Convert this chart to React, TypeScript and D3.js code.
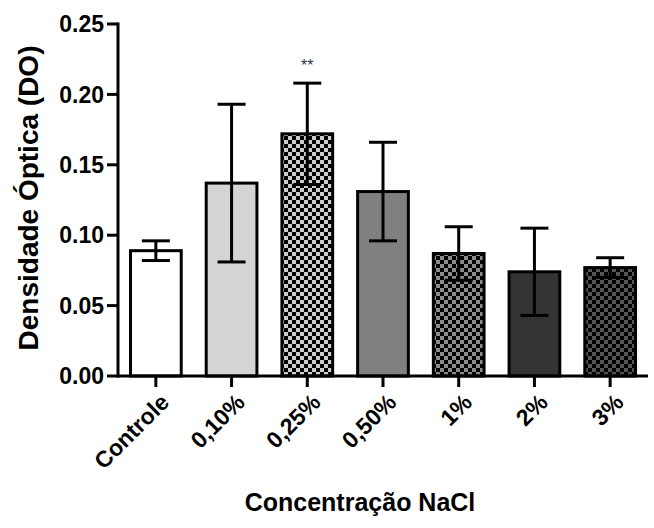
import * as d3 from 'd3';

const categories = ['Controle', '0,10%', '0,25%', '0,50%', '1%', '2%', '3%'];
const means = [0.089, 0.137, 0.172, 0.131, 0.087, 0.074, 0.077];
const errors = [0.007, 0.056, 0.036, 0.035, 0.019, 0.031, 0.007];
const yTicks = [0, 0.05, 0.1, 0.15, 0.2, 0.25];
const marks = ['', '', '**', '', '', '', ''];

const W = 654;
const H = 528;
const font = '"Liberation Sans", Arial, sans-serif';

// fill per bar: solid colour or checker pattern id
const fills = ['#ffffff', '#d4d4d4', 'url(#chk1)', '#808080', 'url(#chk2)', '#333333', 'url(#chk3)'];
const checkers = [
  { id: 'chk1', light: '#cccccc' },
  { id: 'chk2', light: '#8a8a8a' },
  { id: 'chk3', light: '#555555' },
];

export default function App() {
  const x = d3.scaleBand<string>()
    .domain(categories)
    .range([118, 648])
    .paddingInner(0.33)
    .paddingOuter(0.165);

  const y = d3.scaleLinear().domain([0, 0.25]).range([376, 24]);
  const capW = 28;

  return (
    <svg width={W} height={H} style={{ position: 'absolute', left: 0, top: 0, background: '#fff' }}>
      <defs>
        {checkers.map(c => (
          <pattern key={c.id} id={c.id} width={8} height={8} patternUnits="userSpaceOnUse">
            <rect width={8} height={8} fill="#000" />
            <rect x={0} y={0} width={4} height={4} fill={c.light} />
            <rect x={4} y={4} width={4} height={4} fill={c.light} />
          </pattern>
        ))}
      </defs>

      {/* bars */}
      {categories.map((c, i) => (
        <rect
          key={c}
          x={x(c)!}
          y={y(means[i])}
          width={x.bandwidth()}
          height={y(0) - y(means[i])}
          fill={fills[i]}
          stroke="#000"
          strokeWidth={3}
        />
      ))}

      {/* error bars */}
      {categories.map((c, i) => {
        const cx = x(c)! + x.bandwidth() / 2;
        const top = y(means[i] + errors[i]);
        const bot = y(means[i] - errors[i]);
        return (
          <g key={c} stroke="#000" strokeWidth={3}>
            <line x1={cx} x2={cx} y1={top} y2={bot} />
            <line x1={cx - capW / 2} x2={cx + capW / 2} y1={top} y2={top} />
            <line x1={cx - capW / 2} x2={cx + capW / 2} y1={bot} y2={bot} />
          </g>
        );
      })}

      {/* significance */}
      {categories.map((c, i) => marks[i] ? (
        <text
          key={c}
          x={x(c)! + x.bandwidth() / 2}
          y={y(means[i] + errors[i]) - 12}
          textAnchor="middle"
          fontFamily={font}
          fontSize={16}
          fill="#333344"
        >{marks[i]}</text>
      ) : null)}

      {/* y axis */}
      <line x1={118} x2={118} y1={y(0.25) - 1.5} y2={y(0) + 1.5} stroke="#000" strokeWidth={3} />
      {yTicks.map(t => (
        <g key={t}>
          <line x1={107} x2={118} y1={y(t)} y2={y(t)} stroke="#000" strokeWidth={3} />
          <text
            x={104}
            y={y(t)}
            dy="0.36em"
            textAnchor="end"
            fontFamily={font}
            fontWeight="bold"
            fontSize={23}
          >{t.toFixed(2)}</text>
        </g>
      ))}

      {/* x axis */}
      <line x1={116.5} x2={648} y1={y(0)} y2={y(0)} stroke="#000" strokeWidth={3} />
      {categories.map(c => {
        const cx = x(c)! + x.bandwidth() / 2;
        return (
          <g key={c}>
            <line x1={cx} x2={cx} y1={y(0)} y2={y(0) + 11} stroke="#000" strokeWidth={3} />
            <text
              transform={`translate(${cx + 9},${y(0) + 22}) rotate(-45)`}
              textAnchor="end"
              dy="0.35em"
              fontFamily={font}
              fontWeight="bold"
              fontSize={23}
            >{c}</text>
          </g>
        );
      })}

      {/* axis titles */}
      <text
        x={360}
        y={511}
        textAnchor="middle"
        fontFamily={font}
        fontWeight="bold"
        fontSize={25}
      >Concentração NaCl</text>
      <text
        transform="translate(38,198) rotate(-90)"
        textAnchor="middle"
        fontFamily={font}
        fontWeight="bold"
        fontSize={28}
      >Densidade Óptica (DO)</text>
    </svg>
  );
}
